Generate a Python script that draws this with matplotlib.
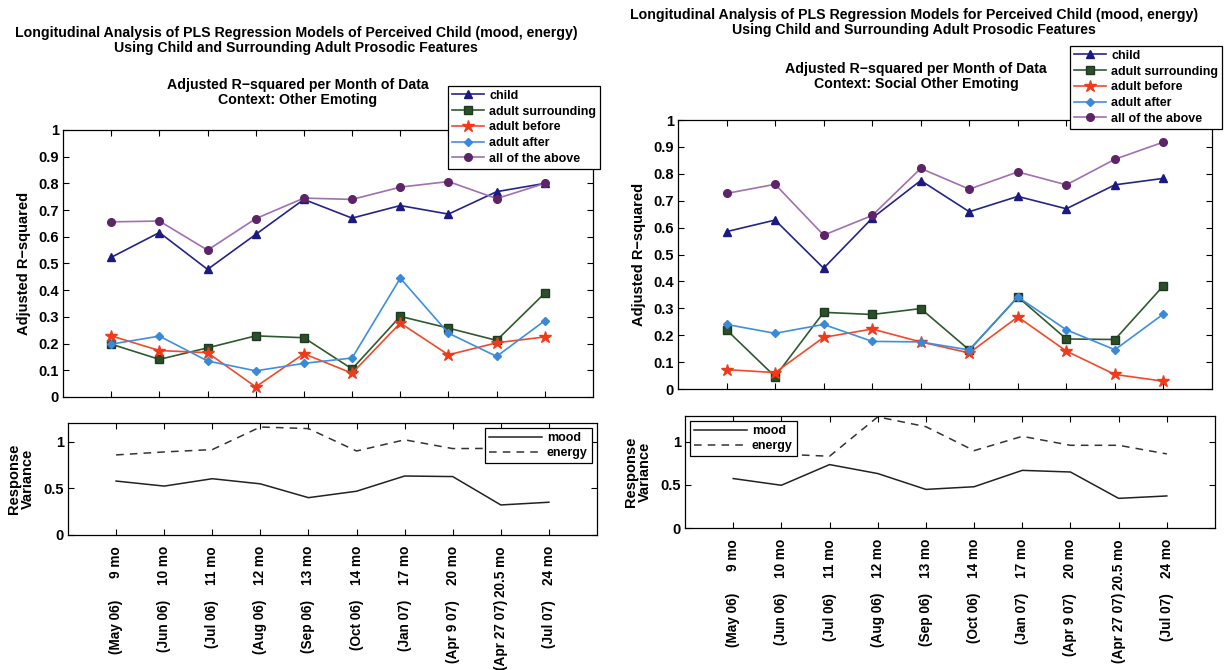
import numpy as np
import matplotlib.pyplot as plt

plt.rcParams['font.family'] = ['Liberation Sans', 'DejaVu Sans']
plt.rcParams['font.weight'] = 'bold'

W, H = 1224, 670

months = ['9 mo', '10 mo', '11 mo', '12 mo', '13 mo', '14 mo', '17 mo', '20 mo', '20.5 mo', '24 mo']
dates = ['(May 06)', '(Jun 06)', '(Jul 06)', '(Aug 06)', '(Sep 06)', '(Oct 06)',
         '(Jan 07)', '(Apr 9 07)', '(Apr 27 07)', '(Jul 07)']
series = ['child', 'adult surrounding', 'adult before', 'adult after', 'all of the above']

# Context: Other Emoting
oe_child = [0.523, 0.616, 0.478, 0.609, 0.740, 0.670, 0.717, 0.685, 0.769, 0.800]
oe_surround = [0.198, 0.141, 0.184, 0.229, 0.222, 0.105, 0.302, 0.258, 0.212, 0.389]
oe_before = [0.229, 0.174, 0.166, 0.038, 0.162, 0.089, 0.277, 0.158, 0.203, 0.225]
oe_after = [0.198, 0.228, 0.135, 0.098, 0.126, 0.146, 0.445, 0.239, 0.152, 0.286]
oe_all = [0.656, 0.659, 0.550, 0.668, 0.745, 0.740, 0.786, 0.807, 0.743, 0.800]
oe_mood = [0.578, 0.524, 0.603, 0.548, 0.400, 0.469, 0.632, 0.626, 0.322, 0.351]
oe_energy = [0.858, 0.890, 0.915, 1.157, 1.140, 0.900, 1.020, 0.926, 0.928, 0.930]

# Context: Social Other Emoting
so_child = [0.585, 0.628, 0.449, 0.635, 0.775, 0.659, 0.716, 0.670, 0.759, 0.783]
so_surround = [0.220, 0.046, 0.285, 0.277, 0.299, 0.145, 0.342, 0.186, 0.184, 0.384]
so_before = [0.072, 0.061, 0.192, 0.223, 0.175, 0.134, 0.268, 0.141, 0.054, 0.029]
so_after = [0.240, 0.207, 0.240, 0.177, 0.175, 0.145, 0.342, 0.220, 0.146, 0.279]
so_all = [0.727, 0.761, 0.572, 0.645, 0.820, 0.743, 0.807, 0.759, 0.854, 0.918]
so_mood = [0.574, 0.496, 0.736, 0.632, 0.448, 0.479, 0.669, 0.650, 0.344, 0.372]
so_energy = [0.860, 0.857, 0.833, 1.290, 1.176, 0.898, 1.064, 0.960, 0.960, 0.860]

styles = [
    dict(color='#24248c', marker='^', mfc='#1a1a80', mec='#1a1a80', ms=5.5),
    dict(color='#2f5a2f', marker='s', mfc='#2a4f2a', mec='#1e3a1e', ms=5.5),
    dict(color='#f04a2a', marker='*', mfc='#f03a1a', mec='#f03a1a', ms=9),
    dict(color='#3f8fe0', marker='D', mfc='#3a88d8', mec='#3a88d8', ms=4),
    dict(color='#a070b0', marker='o', mfc='#5e2468', mec='#5e2468', ms=5.5),
]


def box(l, t, r, b):
    return [l / W, 1 - b / H, (r - l) / W, (b - t) / H]


def frame(ax):
    ax.tick_params(direction='in', length=4, width=0.8, top=True, right=True,
                   labelsize=10.5, pad=3)
    for s in ax.spines.values():
        s.set_linewidth(0.9)
    ax.set_xlim(0, 11)
    ax.set_xticks(np.arange(1, 11))


fig = plt.figure(figsize=(W / 100, H / 100), dpi=100)

panels = [
    dict(vals=[oe_child, oe_surround, oe_before, oe_after, oe_all],
         mood=oe_mood, energy=oe_energy, ylim=1.2,
         top=(63, 130, 593, 397), bottom=(68, 423, 597, 535),
         legend=(600, 86), blegend='upper right',
         title_x=296, title_y=26, sub_y=78,
         sub='Adjusted R\u2212squared per Month of Data\nContext: Other Emoting',
         title='Longitudinal Analysis of PLS Regression Models of Perceived Child (mood, energy)\n'
               'Using Child and Surrounding Adult Prosodic Features'),
    dict(vals=[so_child, so_surround, so_before, so_after, so_all],
         mood=so_mood, energy=so_energy, ylim=1.3,
         top=(678, 120, 1212, 389), bottom=(685, 416, 1215, 528),
         legend=(1222, 46), blegend='upper left',
         title_x=914, title_y=8, sub_y=62,
         sub='Adjusted R\u2212squared per Month of Data\nContext: Social Other Emoting',
         title='Longitudinal Analysis of PLS Regression Models for Perceived Child (mood, energy)\n'
               'Using Child and Surrounding Adult Prosodic Features'),
]

x = np.arange(1, 11)
for p in panels:
    fig.text(p['title_x'] / W, 1 - p['title_y'] / H, p['title'], ha='center', va='top',
             fontsize=10.2, fontweight='bold', linespacing=1.05)
    fig.text((p['title_x'] + 2) / W, 1 - p['sub_y'] / H, p['sub'], ha='center', va='top',
             fontsize=10.2, fontweight='bold', linespacing=1.1)

    ax = fig.add_axes(box(*p['top']))
    for name, v, st in zip(series, p['vals'], styles):
        ax.plot(x, v, lw=1.2, label=name, **st)
    frame(ax)
    ax.set_ylim(0, 1)
    ax.set_yticks(np.arange(0, 1.01, 0.1))
    ax.set_yticklabels(['0'] + ['%.1f' % t for t in np.arange(0.1, 0.95, 0.1)] + ['1'])
    ax.set_xticklabels([])
    ax.set_ylabel('Adjusted R\u2212squared', fontsize=10.5, fontweight='bold', labelpad=5)
    lx, ly = p['legend']
    leg = ax.legend(loc='upper right', bbox_to_anchor=(lx / W, 1 - ly / H),
                    bbox_transform=fig.transFigure,
                    fontsize=9, frameon=True, fancybox=False, edgecolor='black',
                    framealpha=1, borderpad=0.3, labelspacing=0.3, handlelength=2.6,
                    handletextpad=0.4, borderaxespad=0)
    leg.get_frame().set_linewidth(0.9)

    bx = fig.add_axes(box(*p['bottom']))
    bx.plot(x, p['mood'], color='#222222', lw=1.1, label='mood')
    bx.plot(x, p['energy'], color='#333333', lw=1.1, ls=(0, (5, 4)), label='energy')
    frame(bx)
    bx.set_ylim(0, p['ylim'])
    bx.set_yticks([0, 0.5, 1])
    bx.set_yticklabels(['0', '0.5', '1'])
    bx.set_xticklabels(months, rotation=90, fontsize=9.8, fontweight='bold')
    bx.tick_params(axis='x', pad=8)
    bx.set_ylabel('Response\nVariance', fontsize=10.5, fontweight='bold', labelpad=6,
                  linespacing=1.0)
    leg = bx.legend(loc=p['blegend'], fontsize=9, frameon=True, fancybox=False,
                    edgecolor='black', framealpha=1, borderpad=0.35, labelspacing=0.2,
                    handlelength=4.2, handletextpad=0.4, borderaxespad=0.4)
    leg.get_frame().set_linewidth(0.9)
    p['bx'] = bx

# second row of tick text: the calendar month sits below each age label
fig.canvas.draw()
r = fig.canvas.get_renderer()
for p in panels:
    bx = p['bx']
    base = bx.transAxes.transform((0, 0))[1] - 65
    for lab, d, xi in zip(bx.get_xticklabels(), dates, x):
        bb = lab.get_window_extent(r)
        top = min(base, bb.y0 - 2)
        xd = bx.transData.transform((xi, 0))[0]
        fig.text(xd / W, top / H, d, rotation=90, ha='center', va='top',
                 fontsize=9.8, fontweight='bold')

fig.savefig('out.png', dpi=100, facecolor='white')
